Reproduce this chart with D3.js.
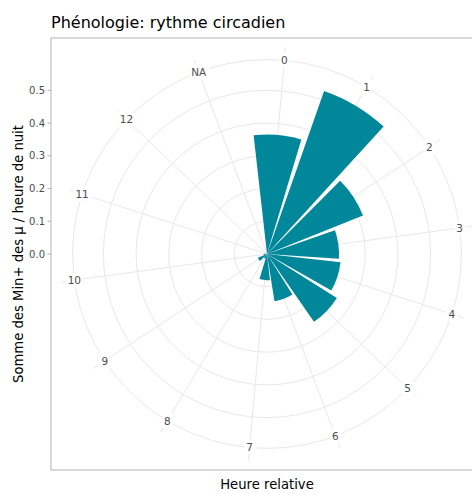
<!DOCTYPE html>
<html>
<head>
<meta charset="utf-8">
<script src="https://cdn.jsdelivr.net/npm/d3@7"></script>
<style>
  body { margin: 0; background: #fff; }
  svg { font-family: "DejaVu Sans", sans-serif; display: block; }
</style>
</head>
<body>
<script>
// heures relatives (categories) et sommes
var hours = ["0", "1", "2", "3", "4", "5", "6", "7", "8", "9", "10", "11", "12", "NA"];
var sums = [0.365, 0.528, 0.316, 0.22, 0.226, 0.252, 0.146, 0.08, 0.015, 0.03, 0.01, 0, 0, 0];
var rTicks = [0, 0.1, 0.2, 0.3, 0.4, 0.5];

var W = 472, H = 494;
var panel = {left: 51, top: 38, size: 432};
var cx = panel.left + panel.size / 2,
    cy = panel.top + panel.size / 2;

var svg = d3.select("body").append("svg")
    .attr("width", W)
    .attr("height", H);

// theta : 14 categories around the circle, first one slightly right of top
var step = 2 * Math.PI / hours.length;
var offset = step * 0.2;
var theta = d3.scalePoint()
    .domain(hours)
    .range([offset, offset + step * (hours.length - 1)]);

// r : 0 .. max mapped to 0 .. 0.4 of the panel
var r = d3.scaleLinear()
    .domain([0, d3.max(sums)])
    .range([0, 0.4 * panel.size]);

var outerR = 0.45 * panel.size;
var spokeR = 0.48 * panel.size;

svg.append("defs").append("clipPath").attr("id", "clip")
  .append("rect")
    .attr("x", panel.left).attr("y", panel.top)
    .attr("width", panel.size).attr("height", panel.size);

var g = svg.append("g")
    .attr("clip-path", "url(#clip)")
  .append("g")
    .attr("transform", "translate(" + cx + "," + cy + ")");

var gridCol = "#e8e8e8";

// cercles
g.selectAll("circle.grid")
    .data(rTicks.map(function(d) { return r(d); }).concat([outerR]))
  .enter().append("circle")
    .attr("class", "grid")
    .attr("r", function(d) { return d; })
    .attr("fill", "none")
    .attr("stroke", gridCol)
    .attr("stroke-width", 1);

// rayons
g.selectAll("line.spoke")
    .data(hours)
  .enter().append("line")
    .attr("class", "spoke")
    .attr("x1", 0).attr("y1", 0)
    .attr("x2", function(d) { return spokeR * Math.sin(theta(d)); })
    .attr("y2", function(d) { return -spokeR * Math.cos(theta(d)); })
    .attr("stroke", gridCol)
    .attr("stroke-width", 1);

// barres
var arc = d3.arc()
    .innerRadius(0)
    .outerRadius(function(d) { return r(d.v); })
    .startAngle(function(d) { return theta(d.h) - 0.45 * step; })
    .endAngle(function(d) { return theta(d.h) + 0.45 * step; });

g.selectAll("path.bar")
    .data(hours.map(function(h, i) { return {h: h, v: sums[i]}; }))
  .enter().append("path")
    .attr("class", "bar")
    .attr("d", arc)
    .attr("fill", "#00879a");

// etiquettes des heures, sur fond blanc
var lab = g.selectAll("g.lab")
    .data(hours)
  .enter().append("g")
    .attr("class", "lab")
    .attr("transform", function(d) {
      return "translate(" + (outerR * Math.sin(theta(d))) + "," + (-outerR * Math.cos(theta(d))) + ")";
    });
lab.append("text")
    .attr("text-anchor", "middle")
    .attr("dy", "0.36em")
    .attr("font-size", "10.5px")
    .attr("fill", "#4d4d4d")
    .text(function(d) { return d; });
lab.insert("rect", "text")
    .each(function() {
      var bb = this.parentNode.querySelector("text").getBBox();
      d3.select(this)
        .attr("x", bb.x - 2).attr("y", bb.y - 1)
        .attr("width", bb.width + 4).attr("height", bb.height + 2)
        .attr("fill", "#fff");
    });

// bordure du panneau
svg.append("rect")
    .attr("x", panel.left).attr("y", panel.top)
    .attr("width", panel.size).attr("height", panel.size)
    .attr("fill", "none")
    .attr("stroke", "#b3b3b3")
    .attr("stroke-width", 1);

// axe r a gauche
var yAxis = svg.append("g")
    .attr("transform", "translate(" + panel.left + ",0)");
var ry = d3.scaleLinear()
    .domain(r.domain())
    .range([cy, cy - r.range()[1]]);
yAxis.selectAll("line")
    .data(rTicks)
  .enter().append("line")
    .attr("x1", -3.5).attr("x2", 0)
    .attr("y1", ry).attr("y2", ry)
    .attr("stroke", "#b3b3b3");
yAxis.selectAll("text")
    .data(rTicks)
  .enter().append("text")
    .attr("x", -6)
    .attr("y", ry)
    .attr("dy", "0.36em")
    .attr("text-anchor", "end")
    .attr("font-size", "10px")
    .attr("fill", "#4d4d4d")
    .text(d3.format(".1f"));

// titres
svg.append("text")
    .attr("x", panel.left)
    .attr("y", 28)
    .attr("font-size", "16px")
    .attr("fill", "#000")
    .text("Phénologie: rythme circadien");

svg.append("text")
    .attr("x", cx)
    .attr("y", 489)
    .attr("text-anchor", "middle")
    .attr("font-size", "13.2px")
    .attr("fill", "#000")
    .text("Heure relative");

svg.append("text")
    .attr("transform", "translate(23," + cy + ") rotate(-90)")
    .attr("text-anchor", "middle")
    .attr("font-size", "13.2px")
    .attr("fill", "#000")
    .text("Somme des Min+ des µ / heure de nuit");
</script>
</body>
</html>
